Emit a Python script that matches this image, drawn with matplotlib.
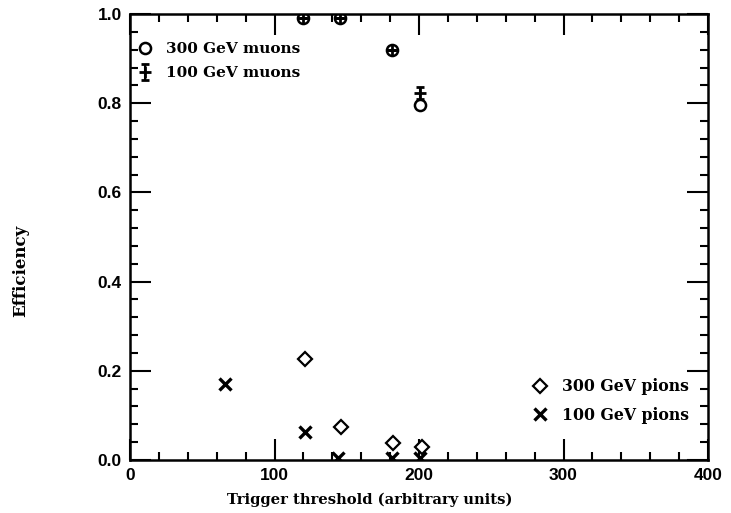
import matplotlib
matplotlib.use("Agg")
import matplotlib.pyplot as plt
from matplotlib.ticker import MultipleLocator

# Data
mu_x = [120, 145, 181, 201]
mu300_y = [0.99, 0.99, 0.919, 0.797]
mu100_y = [0.99, 0.99, 0.919, 0.823]
mu100_err = [0.0, 0.0, 0.0, 0.014]

pi300_x = [121, 146, 182, 202]
pi300_y = [0.226, 0.074, 0.038, 0.029]

pi100_x = [66, 121, 144, 181, 201]
pi100_y = [0.170, 0.063, 0.004, 0.004, 0.004]

labels = ["300 GeV muons", "100 GeV muons", "300 GeV pions", "100 GeV pions"]

serif = {"family": "DejaVu Serif", "weight": "bold"}

fig = plt.figure(figsize=(7.31, 5.13), dpi=100)
ax = fig.add_axes([0.178, 0.1033, 0.7905, 0.8694])

h1, = ax.plot(mu_x, mu300_y, linestyle="none", marker="o", markersize=8,
              markerfacecolor="white", markeredgecolor="black", markeredgewidth=1.8)
h2 = ax.errorbar(mu_x, mu100_y, yerr=mu100_err, linestyle="none", marker="+",
                 markersize=9, markeredgewidth=2.0, color="black",
                 ecolor="black", elinewidth=1.5, capsize=3, capthick=1.5)
h3, = ax.plot(pi300_x, pi300_y, linestyle="none", marker="D", markersize=7,
              markerfacecolor="white", markeredgecolor="black", markeredgewidth=1.6)
h4, = ax.plot(pi100_x, pi100_y, linestyle="none", marker="x", markersize=8,
              markeredgewidth=2.4, color="black")

ax.set_xlim(0, 400)
ax.set_ylim(0, 1.0)
ax.xaxis.set_major_locator(MultipleLocator(100))
ax.xaxis.set_minor_locator(MultipleLocator(20))
ax.yaxis.set_major_locator(MultipleLocator(0.2))
ax.yaxis.set_minor_locator(MultipleLocator(0.04))
ax.tick_params(which="both", direction="in", top=True, right=True, width=1.5)
ax.tick_params(which="major", length=15, pad=6)
ax.tick_params(which="minor", length=6)
ax.set_xticks([0, 100, 200, 300, 400])
ax.set_xticklabels(["0", "100", "200", "300", "400"], fontweight="bold",
                   family="Liberation Sans", fontsize=12.5)
ax.set_yticks([0.0, 0.2, 0.4, 0.6, 0.8, 1.0])
ax.set_yticklabels(["0.0", "0.2", "0.4", "0.6", "0.8", "1.0"], fontweight="bold",
                   family="Liberation Sans", fontsize=12.5)
for s in ax.spines.values():
    s.set_linewidth(1.8)

ax.set_xlabel("Trigger threshold (arbitrary units)", fontdict=serif, fontsize=10.6)
ax.xaxis.set_label_coords(0.415, -0.072)
ax.set_ylabel("Efficiency", fontdict=serif, fontsize=12)
ax.yaxis.set_label_coords(-0.174, 0.424)

leg1 = ax.legend([h1, h2], labels[:2], loc="upper left", bbox_to_anchor=(-0.012, 0.968),
                 frameon=False, handlelength=1.0, handletextpad=0.9, labelspacing=0.68,
                 prop={"family": "DejaVu Serif", "weight": "bold", "size": 11})
ax.add_artist(leg1)
ax.legend([h3, h4], labels[2:], loc="lower left", bbox_to_anchor=(0.672, 0.05),
          frameon=False, handlelength=1.0, handletextpad=0.9, labelspacing=0.72,
          prop={"family": "DejaVu Serif", "weight": "bold", "size": 11.3})

fig.savefig("out.png", dpi=100)
